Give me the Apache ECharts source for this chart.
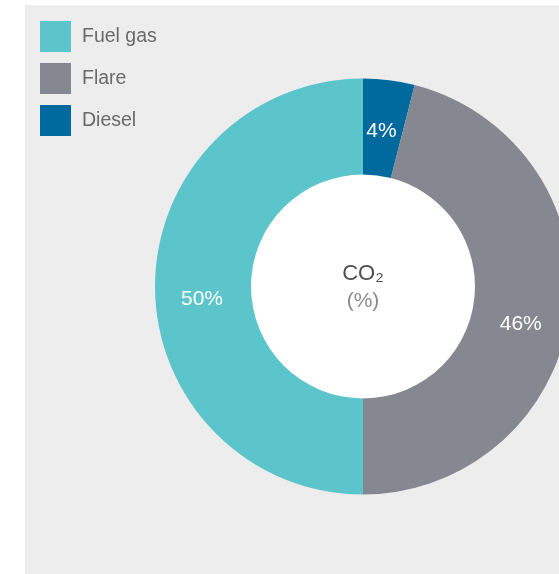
<!DOCTYPE html>
<html>
<head>
<meta charset="utf-8">
<script src="https://cdn.jsdelivr.net/npm/echarts@6/dist/echarts.min.js"></script>
<style>
html,body{margin:0;padding:0;background:#ffffff;}
#chart{width:559px;height:574px;}
</style>
</head>
<body>
<div id="chart"></div>
<script>
const categories = ['Diesel', 'Flare', 'Fuel gas'];
const values = [4, 46, 50];
const legendOrder = ['Fuel gas', 'Flare', 'Diesel'];
const colors = {'Fuel gas': '#5bc5cb', 'Flare': '#868891', 'Diesel': '#00699e'};
const centerTitle = 'CO₂';
const centerUnit = '(%)';

const FONT = '"Liberation Sans", Arial, sans-serif';
const CX = 363, CY = 286.5;
const chart = echarts.init(document.getElementById('chart'), null, {renderer: 'canvas'});
chart.setOption({
  animation: false,
  graphic: [
    {type: 'rect', z: -10, shape: {x: 25, y: 5, width: 560, height: 600}, style: {fill: '#ededed'}},
    {type: 'circle', z: -5, shape: {cx: CX, cy: CY, r: 112.5}, style: {fill: '#ffffff'}},
    {type: 'text', z: 10, style: {text: centerTitle, x: CX, y: 274, align: 'center', verticalAlign: 'middle', fill: '#505050', font: '22px ' + FONT}},
    {type: 'text', z: 10, style: {text: centerUnit, x: CX, y: 301, align: 'center', verticalAlign: 'middle', fill: '#8a8a8a', font: '21px ' + FONT}}
  ],
  legend: {
    orient: 'vertical',
    left: 35,
    top: 16,
    itemWidth: 31,
    itemHeight: 31,
    itemGap: 11,
    icon: 'rect',
    data: legendOrder,
    textStyle: {fontFamily: FONT, fontSize: 19.5, color: '#6a6a6a', padding: [6, 0, 0, 6]},
    selectedMode: false
  },
  series: [{
    type: 'pie',
    center: [CX, CY],
    radius: [112, 208],
    startAngle: 90,
    clockwise: true,
    silent: true,
    label: {
      position: 'inside',
      formatter: '{c}%',
      color: '#ffffff',
      fontFamily: FONT,
      fontSize: 21
    },
    labelLayout: function (p) {
      const shifts = [[-2, 6], [-4, 17], [2, 13]];
      const s = shifts[p.dataIndex] || [0, 0];
      return {dx: s[0], dy: s[1]};
    },
    labelLine: {show: false},
    itemStyle: {borderWidth: 0},
    data: categories.map((c, i) => ({name: c, value: values[i], itemStyle: {color: colors[c]}}))
  }]
});
</script>
</body>
</html>
